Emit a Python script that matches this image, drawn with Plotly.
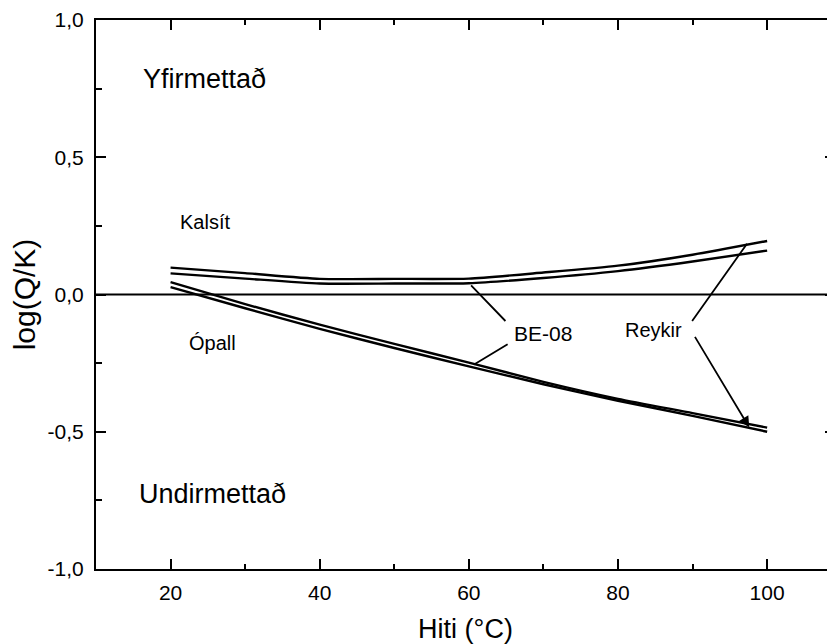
import plotly.graph_objects as go

# Data
temp = [20, 30, 40, 50, 60, 70, 80, 90, 100]
kalsit_be08 = [0.098, 0.078, 0.057, 0.057, 0.058, 0.080, 0.105, 0.145, 0.195]
kalsit_reykir = [0.077, 0.058, 0.040, 0.040, 0.041, 0.060, 0.085, 0.120, 0.160]
opall_be08 = [0.045, -0.035, -0.110, -0.180, -0.248, -0.318, -0.380, -0.432, -0.485]
opall_reykir = [0.027, -0.050, -0.125, -0.195, -0.262, -0.327, -0.387, -0.442, -0.500]

x_ticks = [20, 40, 60, 80, 100]
x_ticklabels = ["20", "40", "60", "80", "100"]
y_ticks = [1.0, 0.5, 0.0, -0.5, -1.0]
y_ticklabels = ["1,0", "0,5", "0,0", "-0,5", "-1,0"]

FONT = "Liberation Sans, Arial, sans-serif"

fig = go.Figure()
for ys in (kalsit_be08, kalsit_reykir, opall_be08, opall_reykir):
    fig.add_trace(go.Scatter(x=temp, y=ys, mode="lines",
                             line=dict(color="black", width=2.4, shape="spline", smoothing=0.6),
                             showlegend=False, hoverinfo="skip"))
# invisible trace for right-side ticks
fig.add_trace(go.Scatter(x=[temp[0]], y=[0], yaxis="y2", mode="markers",
                         marker=dict(opacity=0), showlegend=False, hoverinfo="skip"))

fig.add_hline(y=0, line=dict(color="black", width=2))

texts = [
    ("Yfirmettað", 24.6, 0.785, 27),
    ("Kalsít", 24.6, 0.265, 20),
    ("Ópall", 25.6, -0.178, 20),
    ("Undirmettað", 25.6, -0.727, 27),
    ("BE-08", 69.9, -0.142, 21),
    ("Reykir", 84.7, -0.131, 20),
]
for t, x, y, s in texts:
    fig.add_annotation(x=x, y=y, text=t, showarrow=False,
                       font=dict(family=FONT, size=s, color="black"))

lines = [
    (65.1, -0.102, 60.3, 0.033, 0),
    (65.4, -0.178, 60.7, -0.255, 0),
    (89.8, -0.102, 97.3, 0.185, 0),
    (90.2, -0.149, 97.6, -0.484, 2),
]
for x0, y0, x1, y1, head in lines:
    fig.add_annotation(x=x1, y=y1, ax=x0, ay=y0, axref="x", ayref="y",
                       xref="x", yref="y", text="", showarrow=True,
                       arrowhead=head, arrowsize=1.2, arrowwidth=1.8,
                       arrowcolor="black", standoff=0, startstandoff=0)

# page body has an 8px margin, so the figure is sized/offset to compensate
fig.update_layout(
    width=827, height=636,
    margin=dict(l=88, r=0, t=12, b=75),
    paper_bgcolor="white", plot_bgcolor="white",
    font=dict(family=FONT, size=21, color="black"),
    xaxis=dict(range=[10, 109.1], tickvals=x_ticks, ticktext=x_ticklabels,
               ticks="inside", ticklen=10, tickwidth=1.5, tickcolor="black",
               minor=dict(ticks="inside", ticklen=5, dtick=10, tick0=0, tickcolor="black", tickwidth=1.5),
               showline=True, linewidth=2, linecolor="black", mirror="ticks",
               showgrid=False, zeroline=False, automargin=False,
               ticklabelstandoff=4,
               title=dict(text="Hiti (°C)", font=dict(size=27), standoff=17),
               tickfont=dict(size=21)),
    yaxis=dict(range=[-1, 1], tickvals=y_ticks, ticktext=y_ticklabels,
               ticks="inside", ticklen=10, tickwidth=1.5, tickcolor="black",
               minor=dict(ticks="inside", ticklen=6, dtick=0.25, tick0=0, tickcolor="black", tickwidth=1.5),
               showline=True, linewidth=2, linecolor="black",
               showgrid=False, zeroline=False, automargin=False,
               ticklabelstandoff=6,
               title=dict(text="log(Q/K)", font=dict(size=30), standoff=4),
               tickfont=dict(size=21)),
    yaxis2=dict(range=[-1, 1], overlaying="y", side="right", tickvals=y_ticks,
                showticklabels=False, ticks="inside", ticklen=10, tickwidth=1.5,
                tickcolor="black", automargin=False,
                minor=dict(ticks="inside", ticklen=6, dtick=0.25, tick0=0, tickcolor="black", tickwidth=1.5),
                showline=False, showgrid=False, zeroline=False),
)

fig.write_html("out.html")
